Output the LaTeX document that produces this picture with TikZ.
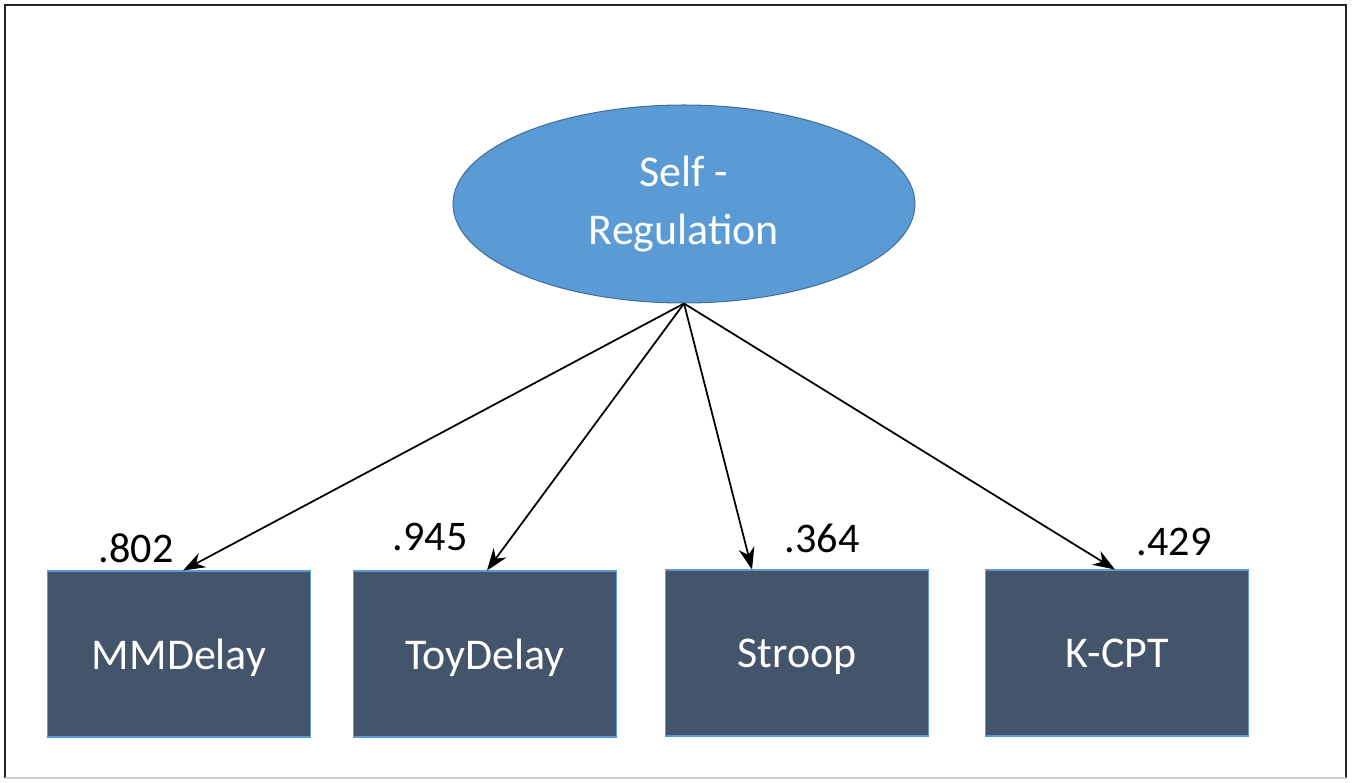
\documentclass[tikz,border=0pt]{standalone}
\usepackage{fontspec}
\setmainfont{Carlito}
\usepackage{tikz}
\usetikzlibrary{shapes.geometric}
\usetikzlibrary{arrows.meta}

\definecolor{latentblue}{HTML}{5B9BD5}
\definecolor{latentedge}{HTML}{41719C}
\definecolor{boxslate}{HTML}{44546A}
\definecolor{boxedge}{HTML}{5B9BD5}

\begin{document}
\begin{tikzpicture}[x=0.02cm,y=-0.02cm]
        \tikzstyle{arrow}=[-{Stealth[length=4.4mm,width=3.2mm]}, line width=1pt];
        \tikzstyle{latent}=[ellipse, draw=latentedge, fill=latentblue, text=white, line width=0.6pt,
            minimum width=9.24cm, minimum height=3.96cm, inner sep=0pt, align=center,
            font=\fontsize{25}{33}\selectfont];
        \tikzstyle{observed}=[rectangle, draw=boxedge, fill=boxslate, text=white, line width=0.6pt,
            minimum width=5.26cm, minimum height=3.32cm, inner sep=0pt, text depth=0pt,
            font=\fontsize{25}{30}\selectfont];
        \tikzstyle{loading}=[font=\fontsize{24}{28}\selectfont, inner sep=0pt];
        \useasboundingbox (0,0) rectangle (1355,783);
        \draw [line width=1.6pt, black!85] (5,778) -- (5,5) -- (1346,5) -- (1346,778);
        \draw [line width=0.8pt, black!20] (5,778) -- (1346,778);

        \node [latent] (v1) at (684,204) {Self -\\Regulation};
        \node [observed] (v2) at (179,654) {MMDelay};
        \node [observed] (v3) at (485,654) {ToyDelay};
        \node [observed] (v4) at (797,653) {Stroop};
        \node [observed] (v5) at (1117,653) {K-CPT};

        \draw [arrow] (v1.south) -- ([xshift=0.08cm]v2.north);
        \draw [arrow] (v1.south) -- ([xshift=0.04cm]v3.north);
        \draw [arrow] (v1.south) -- ([xshift=-0.9cm]v4.north);
        \draw [arrow] (v1.south) -- ([xshift=-0.04cm]v5.north);

        \node [loading] (l2) at (136,548) {.802};
        \node [loading] (l3) at (430,537) {.945};
        \node [loading] (l4) at (822,538) {.364};
        \node [loading] (l5) at (1174,542) {.429};
    \end{tikzpicture}
\end{document}
